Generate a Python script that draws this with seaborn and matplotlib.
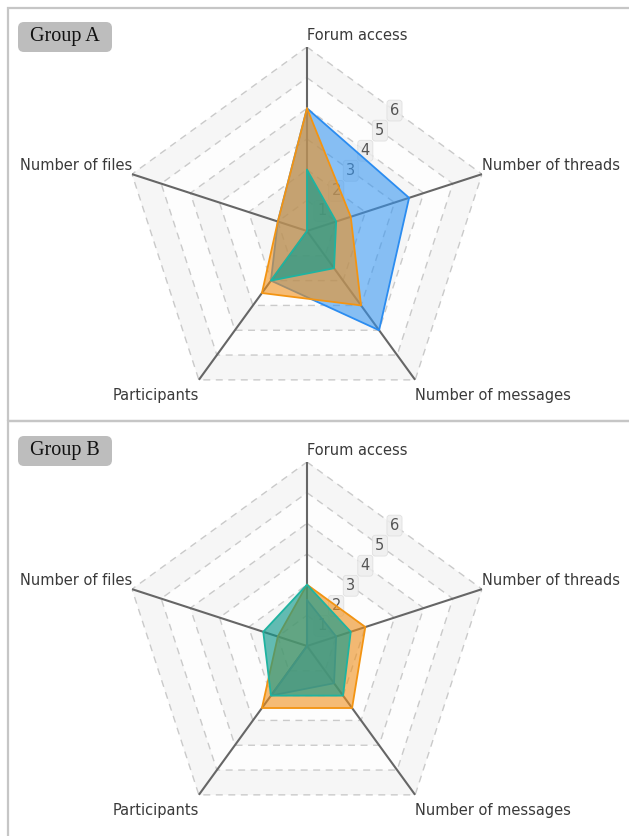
import numpy as np
import matplotlib.pyplot as plt
import seaborn as sns
from matplotlib.patches import Rectangle, FancyBboxPatch
from matplotlib.transforms import IdentityTransform

# radar axes, clockwise from the top
axis_names = ['Forum access', 'Number of threads', 'Number of messages',
              'Participants', 'Number of files']
levels = [1, 2, 3, 4, 5, 6]

group_a_blue = [4, 3.5, 4, 2, 1]
group_a_orange = [4, 1.5, 3, 2.5, 1]
group_a_teal = [2, 1, 1.5, 2, 0]

group_b_blue = [1.5, 1, 1.5, 2, 0]
group_b_orange = [2, 2, 2.5, 2.5, 1]
group_b_teal = [2, 1.5, 2, 2, 1.5]

fill_colors = ['#3596f2', '#f0901a', '#0f9a8c']
fill_alpha = [0.58, 0.6, 0.64]
line_colors = ['#2b8cf0', '#f39412', '#1fb3a0']

sns.set_theme(style='white')
plt.rcParams['font.family'] = ['DejaVu Sans']

W, H = 629, 836
fig = plt.figure(figsize=(W / 100, H / 100), dpi=100)

angles = np.linspace(0, 2 * np.pi, len(axis_names), endpoint=False)
loop = np.append(angles, 2 * np.pi)

# (ha, va, offset in points) for each axis name
name_align = [('left', 'bottom', (0, 3)),
              ('left', 'bottom', (0, 1)),
              ('left', 'top', (0, -6)),
              ('right', 'top', (0, -6)),
              ('right', 'bottom', (0, 1))]


def draw_panel(rect, series, title, title_top):
    ax = fig.add_axes(rect, projection='polar')
    ax.set_theta_zero_location('N')
    ax.set_theta_direction(-1)
    ax.grid(False)
    ax.set_xticks([])
    ax.set_yticks([])
    ax.spines['polar'].set_visible(False)
    ax.patch.set_alpha(0)

    # alternating split areas
    for lv in levels:
        shade = '#f6f6f6' if lv % 2 == 0 else '#fdfdfd'
        ax.fill(np.concatenate([loop, loop[::-1]]),
                [lv] * len(loop) + [lv - 1] * len(loop),
                color=shade, lw=0, zorder=0)
    # dashed rings
    for lv in levels:
        ax.plot(loop, [lv] * len(loop), ls=(0, (5, 4)), color='#cacaca',
                lw=1, zorder=1)
    # spokes
    for a in angles:
        ax.plot([a, a], [0, levels[-1]], color='#666666', lw=1.5, zorder=1)
    # level labels on the bisector between first two axes
    mid = angles[1] / 2
    for lv in levels:
        ax.text(mid, lv * np.cos(mid), str(lv), ha='center', va='center',
                fontsize=10.5, color='#555555', zorder=2,
                bbox=dict(boxstyle='round,pad=0.2', fc='#eeeeee',
                          ec='#dddddd', lw=0.6, alpha=0.85))
    # axis names
    for a, name, (ha, va, off) in zip(angles, axis_names, name_align):
        ax.annotate(name, xy=(a, levels[-1]), xytext=off,
                    textcoords='offset points', ha=ha, va=va,
                    fontsize=10.5, color='#3a3a3a', annotation_clip=False)

    for i, (vals, fc, al, lc) in enumerate(zip(series, fill_colors,
                                               fill_alpha, line_colors)):
        closed = list(vals) + [vals[0]]
        ax.fill(loop, closed, color=fc, alpha=al, lw=0, zorder=3 + 2 * i)
        sns.lineplot(x=loop, y=closed, sort=False, estimator=None, ax=ax,
                     color=lc, lw=1.3, zorder=4 + 2 * i)
    ax.set_xlabel('')
    ax.set_ylabel('')
    ax.set_ylim(0, 6)

    # group tag (pixel box, top-left of the panel)
    fig.add_artist(FancyBboxPatch((18, H - title_top - 30), 94, 30,
                                  boxstyle='round,pad=0,rounding_size=6',
                                  fc='#bdbdbd', ec='none',
                                  transform=IdentityTransform()))
    fig.text(65 / W, 1 - (title_top + 15) / H, title, ha='center',
             va='center', family='Liberation Serif', fontsize=14.5,
             color='#111111')
    return ax


draw_panel([123 / W, 1 - 415 / H, 368 / W, 368 / H],
           [group_a_blue, group_a_orange, group_a_teal], 'Group A', 22)
draw_panel([123 / W, 1 - 830 / H, 368 / W, 368 / H],
           [group_b_blue, group_b_orange, group_b_teal], 'Group B', 436)

# panel frames
for bottom, height in [(1 - 421 / H, 413 / H), (-0.1, 1 - 421 / H + 0.1)]:
    fig.add_artist(Rectangle((8 / W, bottom), 1.2, height, fill=False,
                             ec='#c6c6c6', lw=1.6, transform=fig.transFigure))

fig.savefig('out.png', dpi=100)
